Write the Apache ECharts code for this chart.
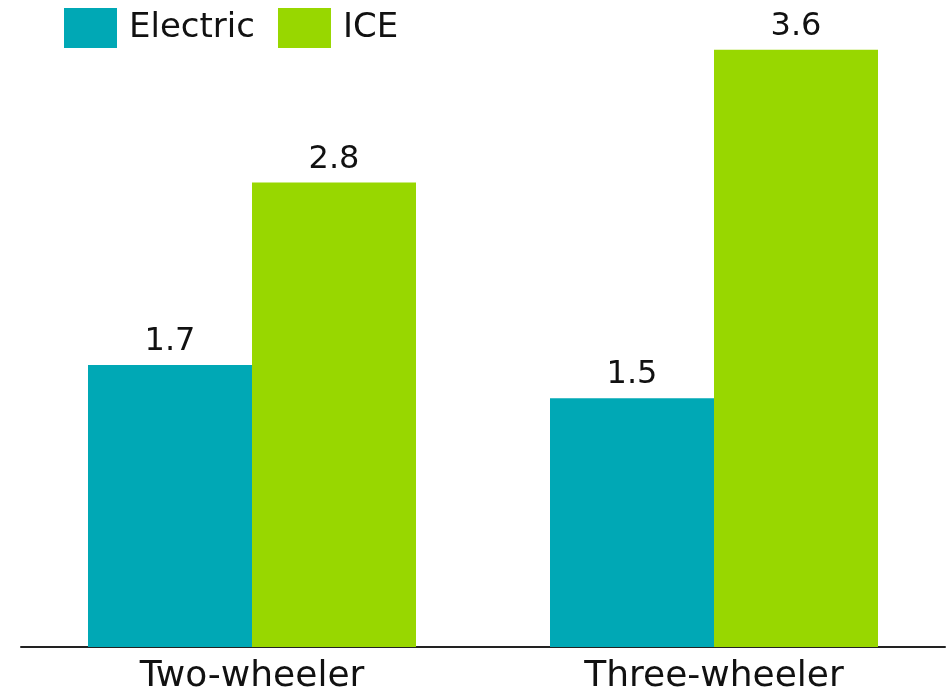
<!DOCTYPE html>
<html>
<head>
<meta charset="utf-8">
<style>
  html, body { margin: 0; padding: 0; background: #fff; }
  #chart { width: 948px; height: 698px; }
</style>
<script src="https://cdn.jsdelivr.net/npm/echarts@6/dist/echarts.min.js"></script>
</head>
<body>
<div id="chart"></div>
<script>
// chart data
var categories = ['Two-wheeler', 'Three-wheeler'];
var electric = [1.7, 1.5];
var ice = [2.8, 3.6];

var font = 'DejaVu Sans';

var chart = echarts.init(document.getElementById('chart'));
chart.setOption({
  animation: false,
  textStyle: { fontFamily: font },
  legend: {
    left: 64,
    top: 8,
    padding: 0,
    itemWidth: 53,
    itemHeight: 40,
    itemGap: 23,
    icon: 'rect',
    textStyle: {
      fontSize: 34,
      color: '#111',
      fontFamily: font,
      padding: [0, 0, 0, 7]
    },
    data: ['Electric', 'ICE']
  },
  grid: {
    left: 21,
    right: 3,
    top: 0,
    bottom: 51,
    containLabel: false
  },
  xAxis: {
    type: 'category',
    data: categories,
    axisTick: { show: false },
    axisLine: {
      lineStyle: { color: '#222', width: 2 }
    },
    axisLabel: {
      fontSize: 36,
      color: '#111',
      margin: 12,
      fontFamily: font
    }
  },
  yAxis: {
    type: 'value',
    min: 0,
    max: 3.9,
    show: false,
    splitLine: { show: false }
  },
  series: [
    {
      name: 'Electric',
      type: 'bar',
      data: electric,
      barWidth: 164,
      barGap: '0%',
      itemStyle: { color: '#00A8B5' },
      label: {
        show: true,
        position: 'top',
        distance: 7,
        fontSize: 32,
        color: '#111',
        fontFamily: font
      }
    },
    {
      name: 'ICE',
      type: 'bar',
      data: ice,
      barWidth: 164,
      barGap: '0%',
      itemStyle: { color: '#98D700' },
      label: {
        show: true,
        position: 'top',
        distance: 7,
        fontSize: 32,
        color: '#111',
        fontFamily: font
      }
    }
  ]
});
</script>
</body>
</html>
